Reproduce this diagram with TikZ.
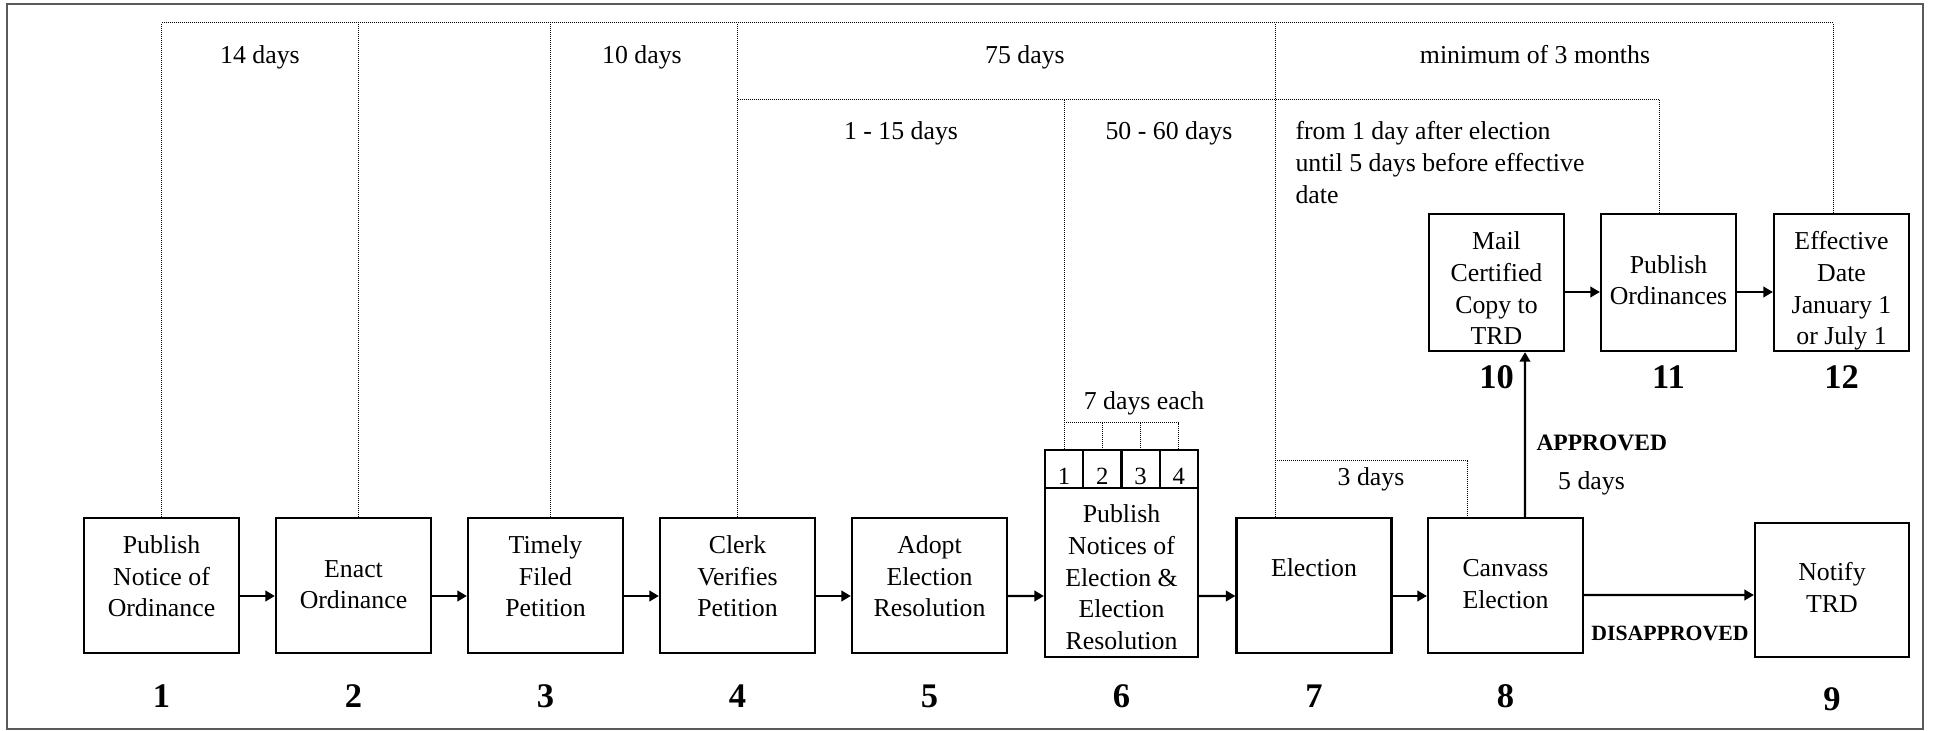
\documentclass[tikz,border=0pt]{standalone}
\usepackage{fontspec}
\setmainfont{Liberation Serif}
\usetikzlibrary{arrows.meta}
\begin{document}
\begin{tikzpicture}[x=0.4pt, y=-0.4pt, font=\fontsize{10.32}{12.64}\selectfont,
  box/.style={draw, line width=0.9pt, inner sep=0pt, minimum width=62pt, minimum height=54pt},
  tabbox/.style={draw, line width=0.9pt, inner sep=0pt, minimum width=15.3pt, minimum height=15.2pt},
  btxt/.style={align=center, inner sep=0pt},
  lbl/.style={inner sep=0pt, anchor=base},
  num/.style={inner sep=0pt, anchor=base, font=\fontsize{13.8}{16}\selectfont\bfseries},
  arr/.style={line width=0.9pt, -{Triangle[length=3.8pt,width=4.2pt]}},
  dot/.style={line width=0.4pt, dash pattern=on 0.4pt off 0.4pt},
]
\useasboundingbox (0,0) rectangle (1933,731);
\draw[line width=0.8pt, black!65] (7,4) rectangle (1923,729);

% boxes
\node[box] (b1) at (161.5,585.5) {};
\node[box] (b2) at (353.5,585.5) {};
\node[box] (b3) at (545.5,585.5) {};
\node[box] (b4) at (737.5,585.5) {};
\node[box] (b5) at (929.5,585.5) {};
\node[box, minimum width=61.2pt, minimum height=67.6pt] (b6) at (1121.5,572.5) {};
\node[tabbox] (t1) at (1064.1,469) {};
\node[tabbox] (t2) at (1102.4,469) {};
\node[tabbox] (t3) at (1140.6,469) {};
\node[tabbox] (t4) at (1178.9,469) {};
\node[box] (b7) at (1314,585.5) {};
\node[box] (b8) at (1505.5,585.5) {};
\node[box, minimum width=61.6pt, minimum height=53.6pt] (b9) at (1832,590) {};
\node[box, minimum width=54pt, minimum height=54.8pt] (b10) at (1496.5,282.5) {};
\node[box, minimum width=54pt, minimum height=54.8pt] (b11) at (1668.5,282.5) {};
\node[box, minimum width=54pt, minimum height=54.8pt] (b12) at (1841.5,282.5) {};

% box texts
\node[btxt] at (161.5,578.7) {Publish\strut\\Notice of\strut\\Ordinance\strut};
\node[btxt] at (353.5,586.7) {Enact\strut\\Ordinance\strut};
\node[btxt] at (545.5,578.7) {Timely\strut\\Filed\strut\\Petition\strut};
\node[btxt] at (737.5,578.7) {Clerk\strut\\Verifies\strut\\Petition\strut};
\node[btxt] at (929.5,578.7) {Adopt\strut\\Election\strut\\Resolution\strut};
\node[btxt] at (1121.5,579.7) {Publish\strut\\Notices of\strut\\Election \&\strut\\Election\strut\\Resolution\strut};
\node[btxt] at (1314,570.4) {Election\strut};
\node[btxt] at (1505.5,586.2) {Canvass\strut\\Election\strut};
\node[btxt] at (1832,590.2) {Notify\strut\\TRD\strut};
\node[btxt] at (1496.5,290.9) {Mail\strut\\Certified\strut\\Copy to\strut\\TRD\strut};
\node[btxt] at (1668.5,282.5) {Publish\strut\\Ordinances\strut};
\node[btxt] at (1841.5,290.9) {Effective\strut\\Date\strut\\January 1\strut\\or July 1\strut};

% tab digits
\coordinate (tb) at (0,485);
\node[lbl, font=\fontsize{9.9}{12}\selectfont] at (t1 |- tb) {1};
\node[lbl, font=\fontsize{9.9}{12}\selectfont] at (t2 |- tb) {2};
\node[lbl, font=\fontsize{9.9}{12}\selectfont] at (t3 |- tb) {3};
\node[lbl, font=\fontsize{9.9}{12}\selectfont] at (t4 |- tb) {4};

% arrows
\draw[arr] ([yshift=-4.2pt]b1.east) -- ([yshift=-4.2pt]b2.west);
\draw[arr] ([yshift=-4.2pt]b2.east) -- ([yshift=-4.2pt]b3.west);
\draw[arr] ([yshift=-4.2pt]b3.east) -- ([yshift=-4.2pt]b4.west);
\draw[arr] ([yshift=-4.2pt]b4.east) -- ([yshift=-4.2pt]b5.west);
\draw[arr] ([yshift=-4.2pt]b5.east) -- ([yshift=-9.4pt]b6.west);
\draw[arr] ([yshift=-9.4pt]b6.east) -- ([yshift=-4.2pt]b7.west);
\draw[arr] ([yshift=-4.2pt]b7.east) -- ([yshift=-4.2pt]b8.west);
\draw[arr] ([yshift=-3.8pt]b8.east) -- ([yshift=-2pt]b9.west);
\draw[arr] ([xshift=7.8pt]b8.north) -- ([xshift=11.4pt]b10.south);
\draw[arr] ([yshift=-3.8pt]b10.east) -- ([yshift=-3.8pt]b11.west);
\draw[arr] ([yshift=-3.8pt]b11.east) -- ([yshift=-3.8pt]b12.west);

% dotted timelines
\coordinate (top) at (0,23);
\coordinate (mid) at (0,100);
\coordinate (sev) at (0,423);
\coordinate (thr) at (0,461);
\coordinate (p2) at ([xshift=1.8pt]b2.north);
\coordinate (p3) at ([xshift=1.8pt]b3.north);
\coordinate (p7) at ([xshift=-15.6pt]b7.north);
\coordinate (p8) at ([xshift=-15.4pt]b8.north);
\coordinate (p11) at ([xshift=-3.8pt]b11.north);
\coordinate (p12) at ([xshift=-3.4pt]b12.north);
\draw[dot] (b1.north) -- (b1.north |- top) -| (p12);
\draw[dot] (p2) -- (p2 |- top);
\draw[dot] (p3) -- (p3 |- top);
\draw[dot] (b4.north) -- (b4.north |- top);
\draw[dot] (b4.north |- mid) -| (p11);
\draw[dot] (t1.north) -- (t1.north |- mid);
\draw[dot] (t1.north |- sev) -| (t4.north);
\draw[dot] (t2.north |- sev) -- (t2.north);
\draw[dot] (t3.north |- sev) -- (t3.north);
\draw[dot] (p7) -- (p7 |- top);
\draw[dot] (p7 |- thr) -| (p8);

% labels
\node[lbl] at (260,63.3) {14 days};
\node[lbl] at (642,63.3) {10 days};
\node[lbl] at (1025,63.3) {75 days};
\node[lbl] at (1535,63.3) {minimum of 3 months};
\node[lbl] at (901,139.3) {1 - 15 days};
\node[lbl] at (1169,139.3) {50 - 60 days};
\node[align=left, inner sep=0pt, anchor=north west] at (1295,117.2) {from 1 day after election\strut\\until 5 days before effective\strut\\date\strut};
\node[lbl] at (1144,410) {7 days each};
\node[lbl] at (1371,486) {3 days};
\node[lbl, anchor=base west, font=\fontsize{9.4}{11}\selectfont\bfseries] at (1536,450.7) {APPROVED};
\node[lbl] at (1591.5,490) {5 days};
\node[lbl, font=\fontsize{8.7}{10}\selectfont\bfseries] at (1670,640) {DISAPPROVED};

% step numbers
\coordinate (nb) at (0,707);
\coordinate (nb9) at (0,710);
\coordinate (nt) at (0,388.3);
\node[num] at (b1 |- nb) {1};
\node[num] at (b2 |- nb) {2};
\node[num] at (b3 |- nb) {3};
\node[num] at (b4 |- nb) {4};
\node[num] at (b5 |- nb) {5};
\node[num] at (b6 |- nb) {6};
\node[num] at (b7 |- nb) {7};
\node[num] at (b8 |- nb) {8};
\node[num] at (b9 |- nb9) {9};
\node[num] at (b10 |- nt) {10};
\node[num] at (b11 |- nt) {11};
\node[num] at (b12 |- nt) {12};
\end{tikzpicture}
\end{document}
